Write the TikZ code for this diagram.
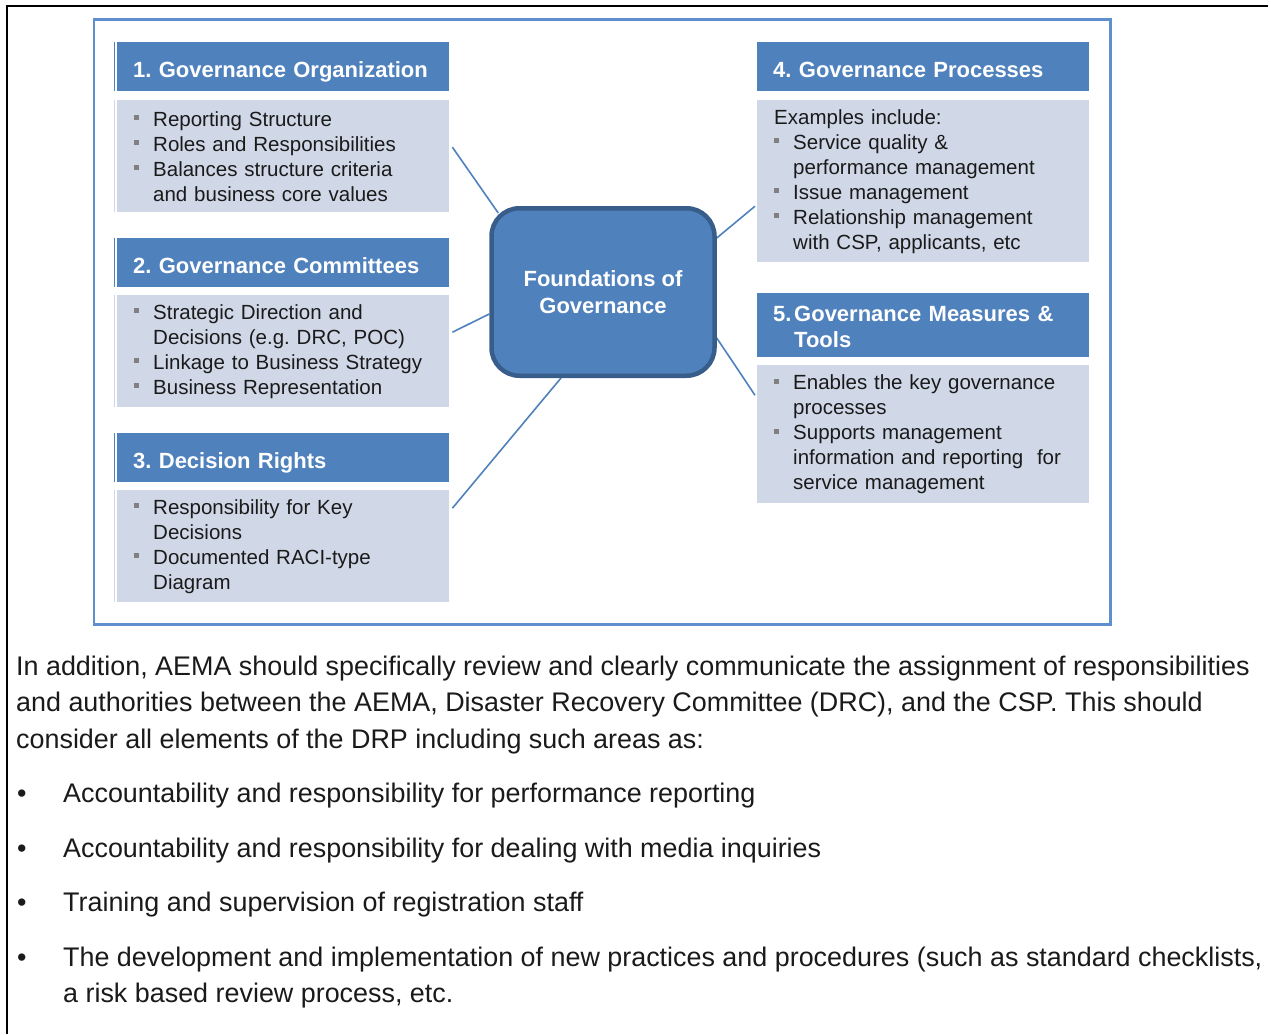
\documentclass[tikz,border=0pt]{standalone}
\usepackage{fontspec}
\setmainfont{Liberation Sans}
\usetikzlibrary{backgrounds}
\definecolor{hdrblue}{RGB}{79,129,189}
\definecolor{bodyblue}{RGB}{208,216,232}
\definecolor{rimblue}{RGB}{56,93,138}
\definecolor{frameblue}{RGB}{95,143,206}
\definecolor{bulgray}{RGB}{128,128,128}
\definecolor{inkdark}{RGB}{26,26,26}
\newcommand{\sqbul}{\makebox[19pt][l]{\textcolor{bulgray}{\rule[6pt]{5pt}{5pt}}}}
\newcommand{\sqind}{\hspace*{19pt}}
\newcommand{\dotbul}{\makebox[46pt][l]{\textbullet}}
\frenchspacing

\begin{document}
\begin{tikzpicture}[x=1pt, y=-1pt,
    hdr/.style={fill=hdrblue, anchor=north west, minimum width=332, minimum height=49, text width=300, inner xsep=16, inner ysep=0, text height=21.6, text depth=0, align=left, text=white, font=\fontsize{22}{26.5}\selectfont\bfseries},
    body/.style={fill=bodyblue, anchor=north west, minimum width=332, text width=298, inner xsep=17, inner ysep=0, align=left, text=inkdark, font=\fontsize{20.5}{25}\selectfont},
    txt/.style={anchor=base west, inner sep=0, align=left, text=inkdark, font=\fontsize{26.9}{36.7}\selectfont},
    link/.style={draw=hdrblue, line width=1.6}]
    \useasboundingbox (0,0) rectangle (1271,1034);
    \draw[line width=2.6] (7,1034)--(7,6)--(1268,6);
    \draw[frameblue, line width=2.4] (94,19.5) rectangle (1110.5,624.5);
    \node[hdr] (orghead) at (117,42) {1. Governance Organization};
    \node[body, minimum height=112] (orgbody) at (117,100) {\sqbul Reporting Structure\\ \sqbul Roles and Responsibilities\\ \sqbul Balances structure criteria\\ \sqind and business core values};
    \node[hdr] (comhead) at (117,238) {2. Governance Committees};
    \node[body, minimum height=112] (combody) at (117,295) {\sqbul Strategic Direction and\\ \sqind Decisions (e.g. DRC, POC)\\ \sqbul Linkage to Business Strategy\\ \sqbul Business Representation};
    \node[hdr] (dechead) at (117,433) {3. Decision Rights};
    \node[body, minimum height=112] (decbody) at (117,490) {\sqbul Responsibility for Key\\ \sqind Decisions\\ \sqbul Documented RACI-type\\ \sqind Diagram};
    \node[hdr] (prohead) at (757,42) {4. Governance Processes};
    \node[body, minimum height=162] (probody) at (757,100) {Examples include:\\ \sqbul Service quality \&\\ \sqind performance management\\ \sqbul Issue management\\ \sqbul Relationship management\\ \sqind with CSP, applicants, etc};
    \node[hdr, minimum height=64, text height=19, text depth=26.6] (meahead) at (757,293) {\makebox[21pt][l]{5.}Governance Measures \&\\ \hspace*{21pt}Tools};
    \node[body, minimum height=138] (meabody) at (757,365) {\sqbul Enables the key governance\\ \sqind processes\\ \sqbul Supports management\\ \sqind information and reporting\ \ for\\ \sqind service management};
    \foreach \n/\c in {orghead/hdrblue, orgbody/bodyblue, comhead/hdrblue, combody/bodyblue, dechead/hdrblue, decbody/bodyblue}
        \draw[\c, line width=1] ([xshift=-2.5]\n.north west)--([xshift=-2.5]\n.south west);
    \node[fill=hdrblue, draw=rimblue, line width=4.5, rounded corners=28, minimum width=223, minimum height=167.5, align=center, text=white, font=\fontsize{22}{27.6}\selectfont\bfseries] (found) at (603,292) {Foundations of\\ Governance};
    \begin{scope}[on background layer]
        \draw[link] ([shift={(3,-9)}]orgbody.east)--([shift={(9,7)}]found.north west);
        \draw[link] ([shift={(3,-19)}]combody.east)--([shift={(0,22)}]found.west);
        \draw[link] ([shift={(3,-38)}]decbody.east)--([shift={(-42,0)}]found.south);
        \draw[link] ([shift={(0,-54)}]found.east)--([shift={(-2,25)}]probody.west);
        \draw[link] ([shift={(0,46)}]found.east)--([shift={(-2,-39)}]meabody.west);
    \end{scope}
    \node[txt] (intro) at (16,748.4) {In addition, AEMA should specifically review and clearly communicate the assignment of responsibilities\\ and authorities between the AEMA, Disaster Recovery Committee (DRC), and the CSP. This should\\ consider all elements of the DRP including such areas as:};
    \node[txt] (item1) at (17,802.5) {\dotbul Accountability and responsibility for performance reporting};
    \node[txt] (item2) at (17,857) {\dotbul Accountability and responsibility for dealing with media inquiries};
    \node[txt] (item3) at (17,911.5) {\dotbul Training and supervision of registration staff};
    \node[txt] (item4) at (17,1002.7) {\dotbul The development and implementation of new practices and procedures (such as standard checklists,\\ \hspace*{46pt}a risk based review process, etc.};
\end{tikzpicture}
\end{document}
